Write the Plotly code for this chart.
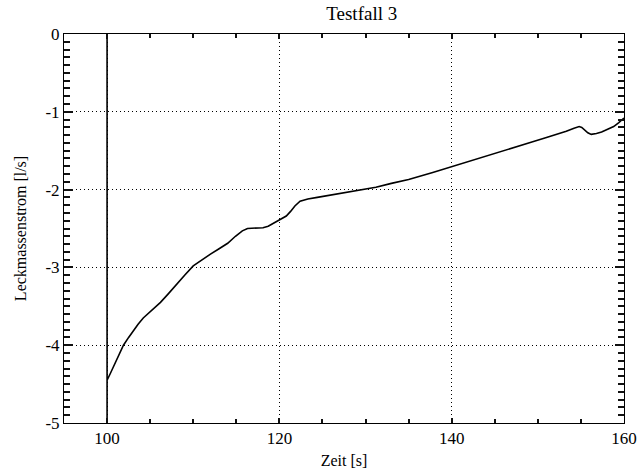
import plotly.graph_objects as go

# Leckmassenstrom over time, Testfall 3
zeit = [100.0, 100.0, 100.0, 100.35, 100.7, 101.3, 101.9, 102.5, 103.0, 103.6, 104.2,
        105.2, 106.2, 107.1, 108.0, 109.0, 110.0, 111.0, 112.0, 113.0, 114.0,
        114.9, 115.7, 116.3, 117.2, 118.1, 118.7, 119.2, 119.8, 120.3, 120.8,
        121.3, 121.8, 122.4, 123.3, 124.4, 125.7, 127.0, 129.0, 131.2, 133.0,
        135.0, 137.8, 140.5, 142.2, 144.0, 145.9, 147.8, 149.4, 151.0, 152.2,
        153.3, 154.2, 154.8, 155.1, 155.4, 155.8, 156.2, 156.8, 157.4, 158.1,
        158.8, 159.4, 160.0]
strom = [0.0, -5.0, -4.45, -4.37, -4.29, -4.15, -4.0, -3.9, -3.82, -3.73, -3.65,
         -3.55, -3.45, -3.34, -3.22, -3.10, -2.98, -2.90, -2.83, -2.76, -2.69,
         -2.60, -2.53, -2.50, -2.495, -2.49, -2.47, -2.44, -2.41, -2.38, -2.34,
         -2.28, -2.21, -2.15, -2.12, -2.10, -2.075, -2.05, -2.01, -1.97, -1.92,
         -1.87, -1.78, -1.69, -1.63, -1.57, -1.505, -1.44, -1.385, -1.33, -1.29,
         -1.25, -1.21, -1.19, -1.20, -1.23, -1.27, -1.29, -1.28, -1.26, -1.23,
         -1.19, -1.14, -1.08]

x_ticks = [100, 120, 140, 160]
y_ticks = [0, -1, -2, -3, -4, -5]

font = "Liberation Serif"
grid_dash = "1px,3px"
ink = "#000000"
tick_ink = "#111111"

fig = go.Figure()
fig.add_trace(go.Scatter(x=zeit, y=strom, mode="lines",
                         line=dict(color=ink, width=1.6),
                         showlegend=False))

fig.update_layout(
    width=638, height=471,
    margin=dict(l=64, r=14, t=34, b=48),
    plot_bgcolor="white",
    font=dict(family=font, color=ink, size=17),
    title=dict(text="Testfall 3", x=0.567, xanchor="center", y=0.985, yanchor="top",
               font=dict(family=font, size=19, color=ink)),
    xaxis=dict(range=[95, 160], tickmode="array", tickvals=x_ticks,
               ticktext=[str(v) for v in x_ticks], automargin=False,
               ticks="inside", ticklen=5, tickwidth=2, tickcolor=tick_ink,
               showline=True, linecolor=ink, mirror="ticks",
               showgrid=True, gridcolor=ink, griddash=grid_dash, zeroline=False,
               minor=dict(dtick=5, tick0=0, ticks="inside", ticklen=4,
                          tickcolor=tick_ink, tickwidth=2, showgrid=False),
               title=dict(text="Zeit [s]", standoff=7, font=dict(size=16))),
    yaxis=dict(range=[-5, 0], tickmode="array", tickvals=y_ticks,
               ticktext=[str(v) for v in y_ticks], automargin=False,
               ticks="inside", ticklen=9, tickwidth=2, tickcolor=tick_ink,
               showline=True, linecolor=ink, mirror="ticks",
               showgrid=True, gridcolor=ink, griddash=grid_dash, zeroline=False,
               minor=dict(dtick=0.1, tick0=0, ticks="inside", ticklen=6,
                          tickcolor=tick_ink, tickwidth=2, showgrid=False),
               title=dict(text="Leckmassenstrom [l/s]", standoff=14, font=dict(size=16))),
)

fig.write_html("out.html")
